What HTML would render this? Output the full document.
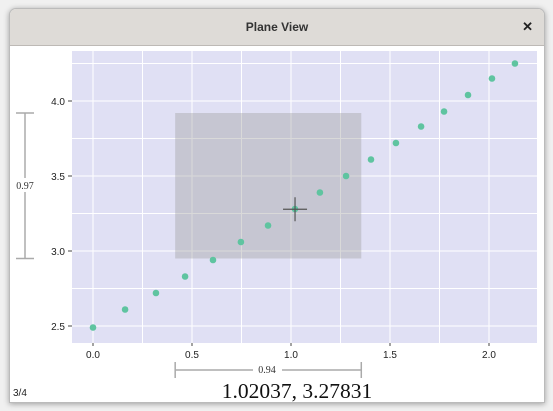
<!DOCTYPE html>
<html><head><meta charset="utf-8"><style>
body{margin:0;width:553px;height:411px;background:#f0f0f0;overflow:hidden;font-family:"Liberation Sans",sans-serif}
.win{position:absolute;left:9px;top:8px;width:534px;height:393px;background:#fff;border:1px solid #bbb;border-radius:7px 7px 0 0;box-shadow:0 1px 6px rgba(0,0,0,.35);overflow:hidden}
.title{position:absolute;left:0;top:0;width:534px;height:36px;background:#dedbd7;border-bottom:1px solid #bdb9b5;text-align:center;line-height:36px;font-size:12px;font-weight:bold;color:#333}
.close{position:absolute;right:11px;top:0;font-size:13px;font-weight:bold;color:#222}
</style></head><body>
<div class="win">
<div class="title">Plane View<span class="close">✕</span></div>
</div>
<svg id="c" width="553" height="411" style="position:absolute;left:0;top:0"></svg>
<script>
const xs=[0,0.162,0.318,0.465,0.606,0.747,0.884,1.02,1.146,1.278,1.404,1.53,1.657,1.773,1.894,2.015,2.131];
const ys=[2.49,2.61,2.72,2.83,2.94,3.06,3.17,3.28,3.39,3.5,3.61,3.72,3.83,3.93,4.04,4.15,4.25];
const xTicks=["0.0","0.5","1.0","1.5","2.0"];
const yTicks=["2.5","3.0","3.5","4.0"];
const sel=[0.415,1.355,2.95,3.92];
const cursor=[1.02037,3.27831];
const X=v=>93+v*198, Y=v=>326-(v-2.5)*150;
const s=document.getElementById('c'),NS='http://www.w3.org/2000/svg';
function mk(t,a,p){const e=document.createElementNS(NS,t);for(const k in a)e.setAttribute(k,a[k]);(p||s).appendChild(e);return e;}
let e=mk('rect',{x:72,y:51,width:465,height:292,fill:'#e0e0f4'});


for(let v=-0.0;v<=2.2;v+=0.25){mk('line',{x1:X(v),x2:X(v),y1:51,y2:343,stroke:'#fff','stroke-width':1});}
for(let v=2.5;v<=4.3;v+=0.25){mk('line',{x1:72,x2:537,y1:Y(v),y2:Y(v),stroke:'#fff','stroke-width':1});}
xTicks.forEach(t=>{const x=X(+t);mk('line',{x1:x,x2:x,y1:343,y2:346,stroke:'#444'});
 e=mk('text',{x:x,y:358,'text-anchor':'middle','font-size':10,fill:'#222'});e.textContent=t;
 
 });
yTicks.forEach(t=>{const y=Y(+t);mk('line',{x1:68,x2:72,y1:y,y2:y,stroke:'#444'});
 e=mk('text',{x:65,y:y+4,'text-anchor':'end','font-size':10,fill:'#222'});e.textContent=t;
 
 });
e=mk('rect',{x:X(sel[0]),y:Y(sel[3]),width:X(sel[1])-X(sel[0]),height:Y(sel[2])-Y(sel[3]),fill:'rgba(160,160,160,0.4)'});


xs.forEach((x,i)=>{e=mk('circle',{cx:X(x),cy:Y(ys[i]),r:3.3,fill:'#5fc4a0'});
 
 });
const cx=X(cursor[0]),cy=Y(cursor[1]);
mk('line',{x1:cx-12,x2:cx+12,y1:cy,y2:cy,stroke:'#555','stroke-width':1.2});
e=mk('line',{x1:cx,x2:cx,y1:cy-12,y2:cy+12,stroke:'#555','stroke-width':1.2});


const g='#aaa';
const y1=Y(sel[3]),y2=Y(sel[2]);
mk('line',{x1:16,x2:34,y1:y1,y2:y1,stroke:g,'stroke-width':1.5});mk('line',{x1:16,x2:34,y1:y2,y2:y2,stroke:g,'stroke-width':1.5});
mk('line',{x1:25,x2:25,y1:y1,y2:178,stroke:g,'stroke-width':1.5});mk('line',{x1:25,x2:25,y1:192,y2:y2,stroke:g,'stroke-width':1.5});
e=mk('text',{x:25,y:189,'text-anchor':'middle','font-size':10,'font-family':'Liberation Serif,serif',fill:'#333'});e.textContent=(sel[3]-sel[2]).toFixed(2);


const x1=X(sel[0]),x2=X(sel[1]);
mk('line',{x1:x1,x2:x1,y1:362,y2:378,stroke:g,'stroke-width':1.5});mk('line',{x1:x2,x2:x2,y1:362,y2:378,stroke:g,'stroke-width':1.5});
mk('line',{x1:x1,x2:253,y1:370,y2:370,stroke:g,'stroke-width':1.5});mk('line',{x1:282,x2:x2,y1:370,y2:370,stroke:g,'stroke-width':1.5});
e=mk('text',{x:267,y:373,'text-anchor':'middle','font-size':10,'font-family':'Liberation Serif,serif',fill:'#333'});e.textContent=(sel[1]-sel[0]).toFixed(2);


e=mk('text',{x:297,y:398,'text-anchor':'middle','font-size':21.5,'font-family':'Liberation Serif,serif',fill:'#111'});e.textContent=cursor[0]+', '+cursor[1];


e=mk('text',{x:13,y:396,'font-size':10,fill:'#222'});e.textContent='3/4';


</script>
</body></html>
